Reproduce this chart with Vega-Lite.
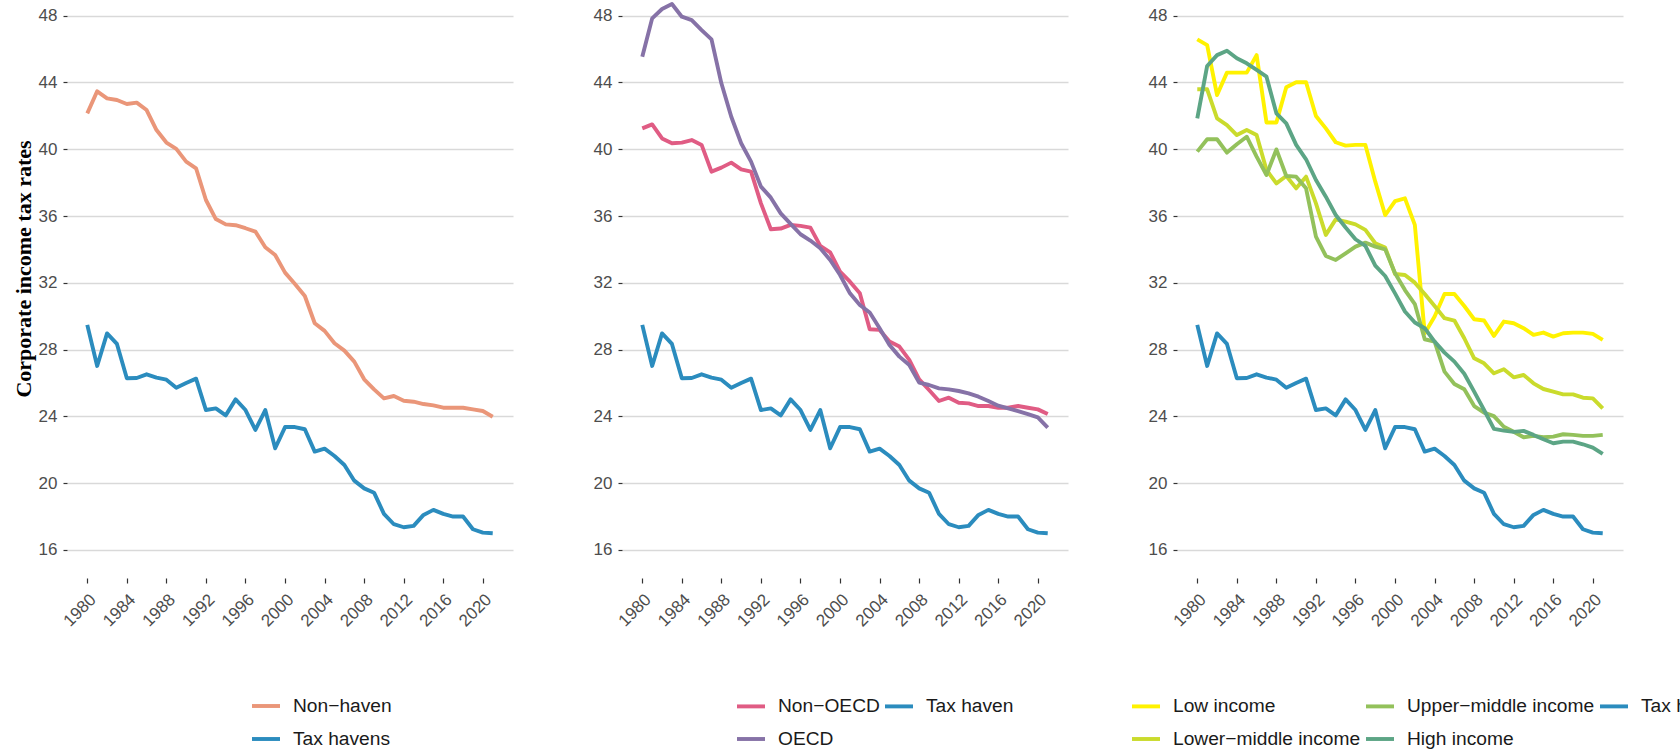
{
  "$schema": "https://vega.github.io/schema/vega-lite/v6.json",
  "background": "white",
  "padding": {"left": 13, "top": 0, "right": 0, "bottom": 0},
  "bounds": "flush",
  "spacing": 109,
  "config": {
    "view": {"stroke": null},
    "font": "Liberation Sans",
    "axis": {
      "domain": false,
      "labelFont": "Liberation Sans",
      "labelFontSize": 17,
      "labelColor": "#4d4d4d",
      "tickColor": "#333333",
      "tickWidth": 1.2,
      "gridColor": "#d9d9d9",
      "gridWidth": 1.4
    },
    "axisX": {"grid": false, "tickSize": 5, "labelAngle": -45, "labelAlign": "right", "labelBaseline": "top", "labelPadding": 8, "title": null},
    "axisY": {"grid": true, "tickSize": 4, "labelPadding": 6, "title": null},
    "legend": {
      "orient": "none",
      "title": null,
      "symbolType": "stroke",
      "symbolSize": 784,
      "symbolStrokeWidth": 5,
      "labelFont": "Liberation Sans",
      "labelFontSize": 19.2,
      "labelColor": "#1a1a1a",
      "labelOffset": 11,
      "columnPadding": 3,
      "rowPadding": 6,
      "labelLimit": 400
    },
    "line": {"strokeWidth": 3.9, "strokeJoin": "round"}
  },
  "resolve": {"scale": {"color": "independent"}, "legend": {"color": "independent"}},
  "datasets": {
    "taxhaven": [
      {"year": 1980, "rate": 29.48}, {"year": 1981, "rate": 27.02}, {"year": 1982, "rate": 28.97}, {"year": 1983, "rate": 28.34},
      {"year": 1984, "rate": 26.28}, {"year": 1985, "rate": 26.3}, {"year": 1986, "rate": 26.52}, {"year": 1987, "rate": 26.32},
      {"year": 1988, "rate": 26.2}, {"year": 1989, "rate": 25.72}, {"year": 1990, "rate": 26.0}, {"year": 1991, "rate": 26.26},
      {"year": 1992, "rate": 24.38}, {"year": 1993, "rate": 24.48}, {"year": 1994, "rate": 24.06}, {"year": 1995, "rate": 25.02},
      {"year": 1996, "rate": 24.38}, {"year": 1997, "rate": 23.19}, {"year": 1998, "rate": 24.38}, {"year": 1999, "rate": 22.09},
      {"year": 2000, "rate": 23.36}, {"year": 2001, "rate": 23.36}, {"year": 2002, "rate": 23.23}, {"year": 2003, "rate": 21.89},
      {"year": 2004, "rate": 22.07}, {"year": 2005, "rate": 21.63}, {"year": 2006, "rate": 21.09}, {"year": 2007, "rate": 20.15},
      {"year": 2008, "rate": 19.69}, {"year": 2009, "rate": 19.43}, {"year": 2010, "rate": 18.16}, {"year": 2011, "rate": 17.54},
      {"year": 2012, "rate": 17.36}, {"year": 2013, "rate": 17.44}, {"year": 2014, "rate": 18.1}, {"year": 2015, "rate": 18.4},
      {"year": 2016, "rate": 18.16}, {"year": 2017, "rate": 18.0}, {"year": 2018, "rate": 18.0}, {"year": 2019, "rate": 17.24},
      {"year": 2020, "rate": 17.04}, {"year": 2021, "rate": 17.0}
    ],
    "regions": [
      {"series": "Non−haven", "year": 1980, "rate": 42.15}, {"series": "Non−haven", "year": 1981, "rate": 43.47}, {"series": "Non−haven", "year": 1982, "rate": 43.05},
      {"series": "Non−haven", "year": 1983, "rate": 42.95}, {"series": "Non−haven", "year": 1984, "rate": 42.71}, {"series": "Non−haven", "year": 1985, "rate": 42.79},
      {"series": "Non−haven", "year": 1986, "rate": 42.35}, {"series": "Non−haven", "year": 1987, "rate": 41.15}, {"series": "Non−haven", "year": 1988, "rate": 40.4},
      {"series": "Non−haven", "year": 1989, "rate": 40.02}, {"series": "Non−haven", "year": 1990, "rate": 39.26}, {"series": "Non−haven", "year": 1991, "rate": 38.86},
      {"series": "Non−haven", "year": 1992, "rate": 36.96}, {"series": "Non−haven", "year": 1993, "rate": 35.82}, {"series": "Non−haven", "year": 1994, "rate": 35.5},
      {"series": "Non−haven", "year": 1995, "rate": 35.45}, {"series": "Non−haven", "year": 1996, "rate": 35.27}, {"series": "Non−haven", "year": 1997, "rate": 35.07},
      {"series": "Non−haven", "year": 1998, "rate": 34.13}, {"series": "Non−haven", "year": 1999, "rate": 33.67}, {"series": "Non−haven", "year": 2000, "rate": 32.61},
      {"series": "Non−haven", "year": 2001, "rate": 31.93}, {"series": "Non−haven", "year": 2002, "rate": 31.21}, {"series": "Non−haven", "year": 2003, "rate": 29.58},
      {"series": "Non−haven", "year": 2004, "rate": 29.12}, {"series": "Non−haven", "year": 2005, "rate": 28.38}, {"series": "Non−haven", "year": 2006, "rate": 27.94},
      {"series": "Non−haven", "year": 2007, "rate": 27.28}, {"series": "Non−haven", "year": 2008, "rate": 26.22}, {"series": "Non−haven", "year": 2009, "rate": 25.62},
      {"series": "Non−haven", "year": 2010, "rate": 25.08}, {"series": "Non−haven", "year": 2011, "rate": 25.22}, {"series": "Non−haven", "year": 2012, "rate": 24.94},
      {"series": "Non−haven", "year": 2013, "rate": 24.88}, {"series": "Non−haven", "year": 2014, "rate": 24.74}, {"series": "Non−haven", "year": 2015, "rate": 24.66},
      {"series": "Non−haven", "year": 2016, "rate": 24.52}, {"series": "Non−haven", "year": 2017, "rate": 24.52}, {"series": "Non−haven", "year": 2018, "rate": 24.52},
      {"series": "Non−haven", "year": 2019, "rate": 24.42}, {"series": "Non−haven", "year": 2020, "rate": 24.32}, {"series": "Non−haven", "year": 2021, "rate": 23.98},

      {"series": "Non−OECD", "year": 1980, "rate": 41.25}, {"series": "Non−OECD", "year": 1981, "rate": 41.49}, {"series": "Non−OECD", "year": 1982, "rate": 40.65},
      {"series": "Non−OECD", "year": 1983, "rate": 40.36}, {"series": "Non−OECD", "year": 1984, "rate": 40.4}, {"series": "Non−OECD", "year": 1985, "rate": 40.55},
      {"series": "Non−OECD", "year": 1986, "rate": 40.26}, {"series": "Non−OECD", "year": 1987, "rate": 38.66}, {"series": "Non−OECD", "year": 1988, "rate": 38.9},
      {"series": "Non−OECD", "year": 1989, "rate": 39.2}, {"series": "Non−OECD", "year": 1990, "rate": 38.8}, {"series": "Non−OECD", "year": 1991, "rate": 38.66},
      {"series": "Non−OECD", "year": 1992, "rate": 36.76}, {"series": "Non−OECD", "year": 1993, "rate": 35.21}, {"series": "Non−OECD", "year": 1994, "rate": 35.25},
      {"series": "Non−OECD", "year": 1995, "rate": 35.47}, {"series": "Non−OECD", "year": 1996, "rate": 35.41}, {"series": "Non−OECD", "year": 1997, "rate": 35.31},
      {"series": "Non−OECD", "year": 1998, "rate": 34.21}, {"series": "Non−OECD", "year": 1999, "rate": 33.83}, {"series": "Non−OECD", "year": 2000, "rate": 32.67},
      {"series": "Non−OECD", "year": 2001, "rate": 32.07}, {"series": "Non−OECD", "year": 2002, "rate": 31.37}, {"series": "Non−OECD", "year": 2003, "rate": 29.22},
      {"series": "Non−OECD", "year": 2004, "rate": 29.18}, {"series": "Non−OECD", "year": 2005, "rate": 28.48}, {"series": "Non−OECD", "year": 2006, "rate": 28.18},
      {"series": "Non−OECD", "year": 2007, "rate": 27.38}, {"series": "Non−OECD", "year": 2008, "rate": 26.22}, {"series": "Non−OECD", "year": 2009, "rate": 25.58},
      {"series": "Non−OECD", "year": 2010, "rate": 24.92}, {"series": "Non−OECD", "year": 2011, "rate": 25.12}, {"series": "Non−OECD", "year": 2012, "rate": 24.82},
      {"series": "Non−OECD", "year": 2013, "rate": 24.78}, {"series": "Non−OECD", "year": 2014, "rate": 24.62}, {"series": "Non−OECD", "year": 2015, "rate": 24.62},
      {"series": "Non−OECD", "year": 2016, "rate": 24.52}, {"series": "Non−OECD", "year": 2017, "rate": 24.52}, {"series": "Non−OECD", "year": 2018, "rate": 24.62},
      {"series": "Non−OECD", "year": 2019, "rate": 24.52}, {"series": "Non−OECD", "year": 2020, "rate": 24.42}, {"series": "Non−OECD", "year": 2021, "rate": 24.14},

      {"series": "OECD", "year": 1980, "rate": 45.54}, {"series": "OECD", "year": 1981, "rate": 47.84}, {"series": "OECD", "year": 1982, "rate": 48.4},
      {"series": "OECD", "year": 1983, "rate": 48.7}, {"series": "OECD", "year": 1984, "rate": 47.94}, {"series": "OECD", "year": 1985, "rate": 47.74},
      {"series": "OECD", "year": 1986, "rate": 47.14}, {"series": "OECD", "year": 1987, "rate": 46.58}, {"series": "OECD", "year": 1988, "rate": 43.95},
      {"series": "OECD", "year": 1989, "rate": 41.95}, {"series": "OECD", "year": 1990, "rate": 40.36}, {"series": "OECD", "year": 1991, "rate": 39.26},
      {"series": "OECD", "year": 1992, "rate": 37.76}, {"series": "OECD", "year": 1993, "rate": 37.1}, {"series": "OECD", "year": 1994, "rate": 36.16},
      {"series": "OECD", "year": 1995, "rate": 35.53}, {"series": "OECD", "year": 1996, "rate": 34.91}, {"series": "OECD", "year": 1997, "rate": 34.53},
      {"series": "OECD", "year": 1998, "rate": 34.07}, {"series": "OECD", "year": 1999, "rate": 33.37}, {"series": "OECD", "year": 2000, "rate": 32.47},
      {"series": "OECD", "year": 2001, "rate": 31.37}, {"series": "OECD", "year": 2002, "rate": 30.67}, {"series": "OECD", "year": 2003, "rate": 30.22},
      {"series": "OECD", "year": 2004, "rate": 29.28}, {"series": "OECD", "year": 2005, "rate": 28.28}, {"series": "OECD", "year": 2006, "rate": 27.58},
      {"series": "OECD", "year": 2007, "rate": 27.08}, {"series": "OECD", "year": 2008, "rate": 26.02}, {"series": "OECD", "year": 2009, "rate": 25.88},
      {"series": "OECD", "year": 2010, "rate": 25.68}, {"series": "OECD", "year": 2011, "rate": 25.62}, {"series": "OECD", "year": 2012, "rate": 25.52},
      {"series": "OECD", "year": 2013, "rate": 25.38}, {"series": "OECD", "year": 2014, "rate": 25.18}, {"series": "OECD", "year": 2015, "rate": 24.92},
      {"series": "OECD", "year": 2016, "rate": 24.64}, {"series": "OECD", "year": 2017, "rate": 24.48}, {"series": "OECD", "year": 2018, "rate": 24.32},
      {"series": "OECD", "year": 2019, "rate": 24.14}, {"series": "OECD", "year": 2020, "rate": 23.94}, {"series": "OECD", "year": 2021, "rate": 23.33},

      {"series": "Low income", "year": 1980, "rate": 46.58}, {"series": "Low income", "year": 1981, "rate": 46.24}, {"series": "Low income", "year": 1982, "rate": 43.25},
      {"series": "Low income", "year": 1983, "rate": 44.59}, {"series": "Low income", "year": 1984, "rate": 44.59}, {"series": "Low income", "year": 1985, "rate": 44.59},
      {"series": "Low income", "year": 1986, "rate": 45.64}, {"series": "Low income", "year": 1987, "rate": 41.6}, {"series": "Low income", "year": 1988, "rate": 41.6},
      {"series": "Low income", "year": 1989, "rate": 43.71}, {"series": "Low income", "year": 1990, "rate": 44.01}, {"series": "Low income", "year": 1991, "rate": 44.01},
      {"series": "Low income", "year": 1992, "rate": 41.99}, {"series": "Low income", "year": 1993, "rate": 41.25}, {"series": "Low income", "year": 1994, "rate": 40.42},
      {"series": "Low income", "year": 1995, "rate": 40.22}, {"series": "Low income", "year": 1996, "rate": 40.26}, {"series": "Low income", "year": 1997, "rate": 40.26},
      {"series": "Low income", "year": 1998, "rate": 38.06}, {"series": "Low income", "year": 1999, "rate": 36.06}, {"series": "Low income", "year": 2000, "rate": 36.9},
      {"series": "Low income", "year": 2001, "rate": 37.06}, {"series": "Low income", "year": 2002, "rate": 35.47}, {"series": "Low income", "year": 2003, "rate": 28.98},
      {"series": "Low income", "year": 2004, "rate": 29.98}, {"series": "Low income", "year": 2005, "rate": 31.33}, {"series": "Low income", "year": 2006, "rate": 31.33},
      {"series": "Low income", "year": 2007, "rate": 30.61}, {"series": "Low income", "year": 2008, "rate": 29.82}, {"series": "Low income", "year": 2009, "rate": 29.74},
      {"series": "Low income", "year": 2010, "rate": 28.82}, {"series": "Low income", "year": 2011, "rate": 29.68}, {"series": "Low income", "year": 2012, "rate": 29.58},
      {"series": "Low income", "year": 2013, "rate": 29.28}, {"series": "Low income", "year": 2014, "rate": 28.88}, {"series": "Low income", "year": 2015, "rate": 29.02},
      {"series": "Low income", "year": 2016, "rate": 28.78}, {"series": "Low income", "year": 2017, "rate": 28.98}, {"series": "Low income", "year": 2018, "rate": 29.02},
      {"series": "Low income", "year": 2019, "rate": 29.02}, {"series": "Low income", "year": 2020, "rate": 28.94}, {"series": "Low income", "year": 2021, "rate": 28.58},

      {"series": "Lower−middle income", "year": 1980, "rate": 43.59}, {"series": "Lower−middle income", "year": 1981, "rate": 43.59}, {"series": "Lower−middle income", "year": 1982, "rate": 41.85},
      {"series": "Lower−middle income", "year": 1983, "rate": 41.45}, {"series": "Lower−middle income", "year": 1984, "rate": 40.85}, {"series": "Lower−middle income", "year": 1985, "rate": 41.15},
      {"series": "Lower−middle income", "year": 1986, "rate": 40.85}, {"series": "Lower−middle income", "year": 1987, "rate": 38.76}, {"series": "Lower−middle income", "year": 1988, "rate": 37.96},
      {"series": "Lower−middle income", "year": 1989, "rate": 38.4}, {"series": "Lower−middle income", "year": 1990, "rate": 37.66}, {"series": "Lower−middle income", "year": 1991, "rate": 38.36},
      {"series": "Lower−middle income", "year": 1992, "rate": 36.76}, {"series": "Lower−middle income", "year": 1993, "rate": 34.87}, {"series": "Lower−middle income", "year": 1994, "rate": 35.8},
      {"series": "Lower−middle income", "year": 1995, "rate": 35.67}, {"series": "Lower−middle income", "year": 1996, "rate": 35.5}, {"series": "Lower−middle income", "year": 1997, "rate": 35.17},
      {"series": "Lower−middle income", "year": 1998, "rate": 34.37}, {"series": "Lower−middle income", "year": 1999, "rate": 34.11}, {"series": "Lower−middle income", "year": 2000, "rate": 32.53},
      {"series": "Lower−middle income", "year": 2001, "rate": 32.47}, {"series": "Lower−middle income", "year": 2002, "rate": 32.01}, {"series": "Lower−middle income", "year": 2003, "rate": 31.33},
      {"series": "Lower−middle income", "year": 2004, "rate": 30.61}, {"series": "Lower−middle income", "year": 2005, "rate": 29.88}, {"series": "Lower−middle income", "year": 2006, "rate": 29.74},
      {"series": "Lower−middle income", "year": 2007, "rate": 28.68}, {"series": "Lower−middle income", "year": 2008, "rate": 27.48}, {"series": "Lower−middle income", "year": 2009, "rate": 27.18},
      {"series": "Lower−middle income", "year": 2010, "rate": 26.58}, {"series": "Lower−middle income", "year": 2011, "rate": 26.82}, {"series": "Lower−middle income", "year": 2012, "rate": 26.34},
      {"series": "Lower−middle income", "year": 2013, "rate": 26.48}, {"series": "Lower−middle income", "year": 2014, "rate": 25.98}, {"series": "Lower−middle income", "year": 2015, "rate": 25.64},
      {"series": "Lower−middle income", "year": 2016, "rate": 25.48}, {"series": "Lower−middle income", "year": 2017, "rate": 25.32}, {"series": "Lower−middle income", "year": 2018, "rate": 25.32},
      {"series": "Lower−middle income", "year": 2019, "rate": 25.12}, {"series": "Lower−middle income", "year": 2020, "rate": 25.08}, {"series": "Lower−middle income", "year": 2021, "rate": 24.48},

      {"series": "Upper−middle income", "year": 1980, "rate": 39.86}, {"series": "Upper−middle income", "year": 1981, "rate": 40.6}, {"series": "Upper−middle income", "year": 1982, "rate": 40.6},
      {"series": "Upper−middle income", "year": 1983, "rate": 39.8}, {"series": "Upper−middle income", "year": 1984, "rate": 40.3}, {"series": "Upper−middle income", "year": 1985, "rate": 40.75},
      {"series": "Upper−middle income", "year": 1986, "rate": 39.56}, {"series": "Upper−middle income", "year": 1987, "rate": 38.46}, {"series": "Upper−middle income", "year": 1988, "rate": 39.99},
      {"series": "Upper−middle income", "year": 1989, "rate": 38.4}, {"series": "Upper−middle income", "year": 1990, "rate": 38.36}, {"series": "Upper−middle income", "year": 1991, "rate": 37.66},
      {"series": "Upper−middle income", "year": 1992, "rate": 34.77}, {"series": "Upper−middle income", "year": 1993, "rate": 33.61}, {"series": "Upper−middle income", "year": 1994, "rate": 33.37},
      {"series": "Upper−middle income", "year": 1995, "rate": 33.77}, {"series": "Upper−middle income", "year": 1996, "rate": 34.17}, {"series": "Upper−middle income", "year": 1997, "rate": 34.41},
      {"series": "Upper−middle income", "year": 1998, "rate": 34.17}, {"series": "Upper−middle income", "year": 1999, "rate": 34.01}, {"series": "Upper−middle income", "year": 2000, "rate": 32.57},
      {"series": "Upper−middle income", "year": 2001, "rate": 31.57}, {"series": "Upper−middle income", "year": 2002, "rate": 30.73}, {"series": "Upper−middle income", "year": 2003, "rate": 28.62},
      {"series": "Upper−middle income", "year": 2004, "rate": 28.48}, {"series": "Upper−middle income", "year": 2005, "rate": 26.68}, {"series": "Upper−middle income", "year": 2006, "rate": 25.94},
      {"series": "Upper−middle income", "year": 2007, "rate": 25.62}, {"series": "Upper−middle income", "year": 2008, "rate": 24.62}, {"series": "Upper−middle income", "year": 2009, "rate": 24.22},
      {"series": "Upper−middle income", "year": 2010, "rate": 24.02}, {"series": "Upper−middle income", "year": 2011, "rate": 23.38}, {"series": "Upper−middle income", "year": 2012, "rate": 23.08},
      {"series": "Upper−middle income", "year": 2013, "rate": 22.75}, {"series": "Upper−middle income", "year": 2014, "rate": 22.83}, {"series": "Upper−middle income", "year": 2015, "rate": 22.75},
      {"series": "Upper−middle income", "year": 2016, "rate": 22.79}, {"series": "Upper−middle income", "year": 2017, "rate": 22.93}, {"series": "Upper−middle income", "year": 2018, "rate": 22.89},
      {"series": "Upper−middle income", "year": 2019, "rate": 22.83}, {"series": "Upper−middle income", "year": 2020, "rate": 22.83}, {"series": "Upper−middle income", "year": 2021, "rate": 22.89},

      {"series": "High income", "year": 1980, "rate": 41.85}, {"series": "High income", "year": 1981, "rate": 44.99}, {"series": "High income", "year": 1982, "rate": 45.64},
      {"series": "High income", "year": 1983, "rate": 45.9}, {"series": "High income", "year": 1984, "rate": 45.45}, {"series": "High income", "year": 1985, "rate": 45.15},
      {"series": "High income", "year": 1986, "rate": 44.75}, {"series": "High income", "year": 1987, "rate": 44.35}, {"series": "High income", "year": 1988, "rate": 42.15},
      {"series": "High income", "year": 1989, "rate": 41.55}, {"series": "High income", "year": 1990, "rate": 40.26}, {"series": "High income", "year": 1991, "rate": 39.4},
      {"series": "High income", "year": 1992, "rate": 38.16}, {"series": "High income", "year": 1993, "rate": 37.16}, {"series": "High income", "year": 1994, "rate": 36.06},
      {"series": "High income", "year": 1995, "rate": 35.31}, {"series": "High income", "year": 1996, "rate": 34.61}, {"series": "High income", "year": 1997, "rate": 34.21},
      {"series": "High income", "year": 1998, "rate": 33.03}, {"series": "High income", "year": 1999, "rate": 32.41}, {"series": "High income", "year": 2000, "rate": 31.37},
      {"series": "High income", "year": 2001, "rate": 30.28}, {"series": "High income", "year": 2002, "rate": 29.62}, {"series": "High income", "year": 2003, "rate": 29.28},
      {"series": "High income", "year": 2004, "rate": 28.48}, {"series": "High income", "year": 2005, "rate": 27.82}, {"series": "High income", "year": 2006, "rate": 27.28},
      {"series": "High income", "year": 2007, "rate": 26.55}, {"series": "High income", "year": 2008, "rate": 25.48}, {"series": "High income", "year": 2009, "rate": 24.38},
      {"series": "High income", "year": 2010, "rate": 23.25}, {"series": "High income", "year": 2011, "rate": 23.15}, {"series": "High income", "year": 2012, "rate": 23.07},
      {"series": "High income", "year": 2013, "rate": 23.13}, {"series": "High income", "year": 2014, "rate": 22.89}, {"series": "High income", "year": 2015, "rate": 22.63},
      {"series": "High income", "year": 2016, "rate": 22.39}, {"series": "High income", "year": 2017, "rate": 22.49}, {"series": "High income", "year": 2018, "rate": 22.49},
      {"series": "High income", "year": 2019, "rate": 22.33}, {"series": "High income", "year": 2020, "rate": 22.13}, {"series": "High income", "year": 2021, "rate": 21.75}
    ]
  },
  "hconcat": [
    {
      "width": 446,
      "height": 578,
      "title": {"text": "Corporate income tax rates", "orient": "left", "anchor": "middle", "font": "Liberation Serif", "fontSize": 22, "fontWeight": "bold", "color": "#000000", "offset": 2, "dx": 20},
      "encoding": {
        "x": {"field": "year", "type": "quantitative", "scale": {"domain": [1977.95, 2023.05], "nice": false, "zero": false}, "axis": {"values": [1980, 1984, 1988, 1992, 1996, 2000, 2004, 2008, 2012, 2016, 2020], "format": "d"}},
        "y": {"field": "rate", "type": "quantitative", "scale": {"domain": [14.32, 48.94], "nice": false, "zero": false}, "axis": {"values": [16, 20, 24, 28, 32, 36, 40, 44, 48]}}
      },
      "layer": [
        {
          "data": {"name": "regions"},
          "transform": [{"filter": "datum.series === 'Non−haven'"}],
          "mark": "line",
          "encoding": {
            "color": {"field": "series", "type": "nominal", "scale": {"domain": ["Non−haven", "Tax havens"], "range": ["#EA9679", "#2B8CBE"]},
                      "legend": {"legendX": 183, "legendY": 690, "columns": 1}}
          }
        },
        {
          "data": {"name": "taxhaven"},
          "mark": "line",
          "encoding": {"color": {"datum": "Tax havens", "type": "nominal"}}
        }
      ]
    },
    {
      "width": 446,
      "height": 578,
      "encoding": {
        "x": {"field": "year", "type": "quantitative", "scale": {"domain": [1977.95, 2023.05], "nice": false, "zero": false}, "axis": {"values": [1980, 1984, 1988, 1992, 1996, 2000, 2004, 2008, 2012, 2016, 2020], "format": "d"}},
        "y": {"field": "rate", "type": "quantitative", "scale": {"domain": [14.32, 48.94], "nice": false, "zero": false}, "axis": {"values": [16, 20, 24, 28, 32, 36, 40, 44, 48]}}
      },
      "layer": [
        {
          "data": {"name": "regions"},
          "transform": [{"filter": "datum.series === 'Non−OECD' || datum.series === 'OECD'"}],
          "mark": "line",
          "encoding": {
            "color": {"field": "series", "type": "nominal", "scale": {"domain": ["Non−OECD", "Tax haven", "OECD"], "range": ["#E05C84", "#2B8CBE", "#8672A7"]},
                      "legend": {"legendX": 113, "legendY": 690, "columns": 2, "direction": "horizontal"}}
          }
        },
        {
          "data": {"name": "taxhaven"},
          "mark": "line",
          "encoding": {"color": {"datum": "Tax haven", "type": "nominal"}}
        }
      ]
    },
    {
      "width": 446,
      "height": 578,
      "encoding": {
        "x": {"field": "year", "type": "quantitative", "scale": {"domain": [1977.95, 2023.05], "nice": false, "zero": false}, "axis": {"values": [1980, 1984, 1988, 1992, 1996, 2000, 2004, 2008, 2012, 2016, 2020], "format": "d"}},
        "y": {"field": "rate", "type": "quantitative", "scale": {"domain": [14.32, 48.94], "nice": false, "zero": false}, "axis": {"values": [16, 20, 24, 28, 32, 36, 40, 44, 48]}}
      },
      "layer": [
        {
          "data": {"name": "regions"},
          "transform": [{"filter": "indexof(datum.series, 'income') >= 0"}],
          "mark": "line",
          "encoding": {
            "color": {"field": "series", "type": "nominal",
                      "scale": {"domain": ["Low income", "Upper−middle income", "Tax havens", "Lower−middle income", "High income"], "range": ["#FFF200", "#93C15B", "#2B8CBE", "#CADB2C", "#5CA585"]},
                      "legend": {"legendX": -47, "legendY": 690, "columns": 3, "direction": "horizontal"}}
          }
        },
        {
          "data": {"name": "taxhaven"},
          "mark": "line",
          "encoding": {"color": {"datum": "Tax havens", "type": "nominal"}}
        }
      ]
    }
  ]
}
